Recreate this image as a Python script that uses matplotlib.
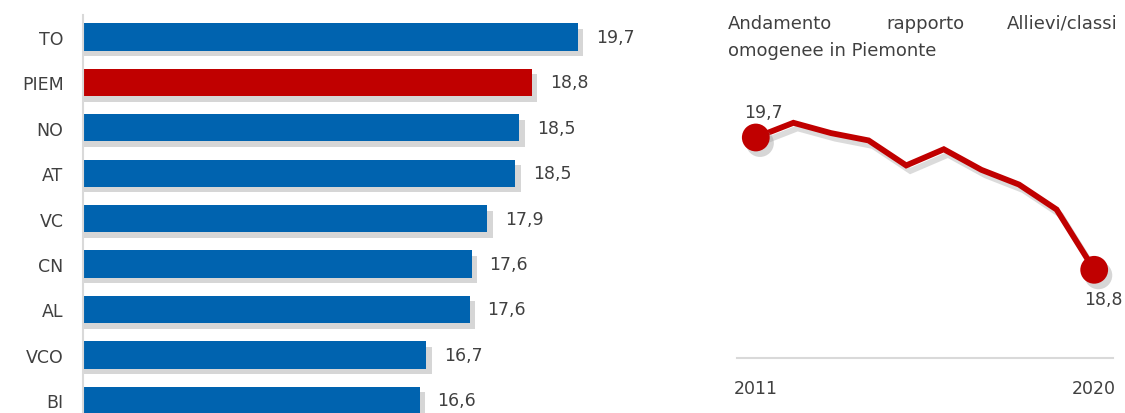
import numpy as np
import matplotlib
matplotlib.use("Agg")
import matplotlib.pyplot as plt
import matplotlib.patheffects as pe

# data
provinces = ["TO", "PIEM", "NO", "AT", "VC", "CN", "AL", "VCO", "BI"]
ratios = [19.7, 18.8, 18.55, 18.48, 17.93, 17.62, 17.58, 16.73, 16.6]
ratio_labels = ["19,7", "18,8", "18,5", "18,5", "17,9", "17,6", "17,6", "16,7", "16,6"]
highlight = "PIEM"

years = [2011, 2012, 2013, 2014, 2015, 2016, 2017, 2018, 2019, 2020]
trend = [19.7, 19.8, 19.73, 19.68, 19.51, 19.62, 19.48, 19.38, 19.21, 18.8]

title_words = ["Andamento", "rapporto", "Allievi/classi"]
title_line2 = "omogenee in Piemonte"

blue = "#0063AF"
red = "#C00000"
txt = "#404040"

plt.rcParams["font.family"] = ["DejaVu Sans"]

fig = plt.figure(figsize=(11.25, 4.14), dpi=100)

# bar chart
ax = fig.add_axes([83 / 1125, 0, 586 / 1125, 398 / 414])
ypos = np.arange(len(provinces))
colors = [red if p == highlight else blue for p in provinces]
shadow = [pe.SimplePatchShadow(offset=(4, -4), shadow_rgbFace="#999999", alpha=0.4), pe.Normal()]
bars = ax.barh(ypos, ratios, left=0, height=0.6, color=colors, zorder=2)
for b in bars:
    b.set_path_effects(shadow)
for y, v, lab in zip(ypos, ratios, ratio_labels):
    ax.annotate(lab, (v, y), xytext=(18, 0), textcoords="offset pixels",
                ha="left", va="center", fontsize=12.5, color=txt)
ax.set_xlim(10, 10 + 586 / 51)
ax.set_ylim(8.28, -0.485)
ax.set_yticks(ypos)
ax.set_yticklabels(provinces, fontsize=12.5, color=txt)
ax.tick_params(axis="y", length=0, pad=14)
ax.set_xticks([])
for s in ["top", "right", "bottom"]:
    ax.spines[s].set_visible(False)
ax.spines["left"].set_color("#d9d9d9")
ax.spines["left"].set_linewidth(1.5)
ax.patch.set_alpha(0)

# line chart
ax2 = fig.add_axes([737 / 1125, 55 / 414, 376 / 1125, 264.6 / 414])
lshadow = [pe.SimpleLineShadow(offset=(3, -4), shadow_color="#999999", alpha=0.35), pe.Normal()]
ax2.plot(years, trend, color=red, lw=4.2, solid_joinstyle="miter", path_effects=lshadow, zorder=3)
pts = ax2.scatter([years[0], years[-1]], [trend[0], trend[-1]], s=20 ** 2, color=red,
                  linewidths=0, zorder=4)
pts.set_path_effects([pe.SimplePatchShadow(offset=(3, -4), shadow_rgbFace="#999999", alpha=0.4),
                      pe.Normal()])
ax2.annotate("19,7", (years[0], trend[0]), xytext=(8, 16), textcoords="offset pixels",
             ha="center", va="bottom", fontsize=12.5, color=txt)
ax2.annotate("18,8", (years[-1], trend[-1]), xytext=(9, -20), textcoords="offset pixels",
             ha="center", va="top", fontsize=12.5, color=txt)
ax2.set_xlim(2010.5, 2020.5)
ax2.set_ylim(18.2, 20.0)
ax2.set_yticks([])
ax2.set_xticks([years[0], years[-1]])
ax2.set_xticklabels([str(years[0]), str(years[-1])], fontsize=12.5, color=txt)
ax2.tick_params(axis="x", length=0, pad=15)
for s in ["top", "right", "left"]:
    ax2.spines[s].set_visible(False)
ax2.spines["bottom"].set_color("#d9d9d9")
ax2.spines["bottom"].set_linewidth(1.5)
ax2.patch.set_alpha(0)

# justified title
fig.text(728 / 1125, 1 - 24 / 414, title_words[0], ha="left", va="center", fontsize=13, color=txt)
fig.text(925 / 1125, 1 - 24 / 414, title_words[1], ha="center", va="center", fontsize=13, color=txt)
fig.text(1118 / 1125, 1 - 24 / 414, title_words[2], ha="right", va="center", fontsize=13, color=txt)
fig.text(728 / 1125, 1 - 51 / 414, title_line2, ha="left", va="center", fontsize=13, color=txt)

fig.savefig("out.png", dpi=100)
